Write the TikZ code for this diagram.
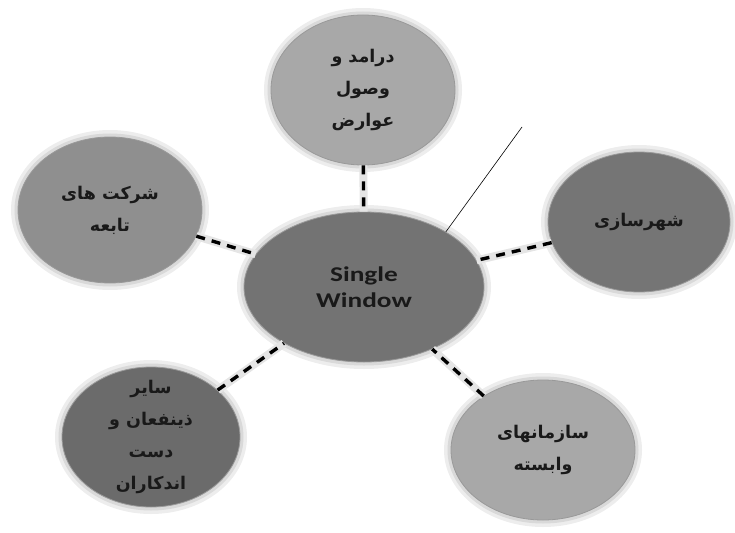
\documentclass[tikz,border=0pt]{standalone}
\usepackage{fontspec}
\setmainfont{Carlito}
\newfontfamily\arabicfont[Script=Arabic]{DejaVu Sans}
\TeXXeTstate=1
\usetikzlibrary{shapes.geometric}
\begin{document}
\begin{tikzpicture}[x=1pt,y=-1pt,
  bubble/.style={ellipse, inner sep=0pt, draw=black!40, line width=0.8pt,
    preaction={draw=black!7, line width=14pt},
    preaction={draw=black!15, line width=7pt}},
  rtl/.style={text=black!90, align=center,
    font=\arabicfont\bfseries\fontsize{17.5}{32}\selectfont},
  link/.style={draw=black, line width=3.4pt, dash pattern=on 9pt off 7pt,
    preaction={draw=black!10, line width=8pt, solid}},
  pointer/.style={draw=black, line width=0.6pt}]
\useasboundingbox (0,0) rectangle (735,532);

\node[bubble, fill=black!34, minimum width=184pt, minimum height=150pt,
  label={[rtl]center:{\beginR درامد و\endR\\\beginR وصول\endR\\\beginR عوارض\endR}}]
  (top) at (363,90) {};
\node[bubble, fill=black!44, minimum width=184pt, minimum height=146pt,
  label={[rtl]center:{\beginR شرکت های\endR\\\beginR تابعه\endR}}]
  (ul) at (110,210) {};
\node[bubble, fill=black!54, minimum width=182pt, minimum height=140pt,
  label={[rtl]center:{\beginR شهرسازی\endR}}]
  (rt) at (639,222) {};
\node[bubble, fill=black!58, minimum width=178pt, minimum height=140pt,
  label={[rtl]center:{\beginR سایر\endR\\\beginR ذینفعان و\endR\\\beginR دست\endR\\\beginR اندکاران\endR}}]
  (bl) at (151,437) {};
\node[bubble, fill=black!34, minimum width=184pt, minimum height=140pt,
  label={[rtl]center:{\beginR سازمانهای\endR\\\beginR وابسته\endR}}]
  (br) at (543,450) {};
\node[bubble, fill=black!55, minimum width=240pt, minimum height=150pt,
  label={[text=black!90, align=center, font=\bfseries\fontsize{21}{26}\selectfont]center:{\scalebox{1.3}[1]{Single}\\\scalebox{1.3}[1]{Window}}}]
  (c) at (364,287) {};

\draw[link] (top) -- (c);
\draw[link] (ul) -- (c);
\draw[link] (rt) -- (c);
\draw[link] (bl) -- (c);
\draw[link] (br) -- (c);

\coordinate (tip) at (522,127);
\draw[pointer] (c.34) -- (tip);
\end{tikzpicture}
\end{document}
